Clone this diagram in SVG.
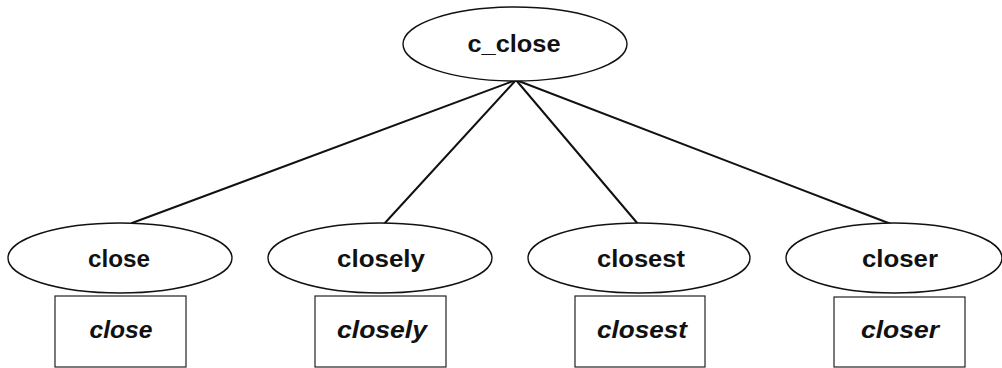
<svg xmlns="http://www.w3.org/2000/svg" width="1002" height="368" viewBox="0 0 1002 368">
  <style>
    .bg { fill: #ffffff; }
    .node { fill: #ffffff; stroke: #111111; stroke-width: 1.4; }
    .box { fill: #ffffff; stroke: #222222; stroke-width: 1.2; }
    .edge { stroke: #111111; stroke-width: 2; fill: none; stroke-linecap: round; }
    .lbl { font-family: "Liberation Sans", Arial, sans-serif; font-weight: bold; font-size: 23px; fill: #111111; text-anchor: middle; }
    .word { font-family: "Liberation Sans", Arial, sans-serif; font-weight: bold; font-style: italic; font-size: 23px; fill: #111111; text-anchor: middle; }
  </style>
  <rect class="bg" x="0" y="0" width="1002" height="368"/>

  <!-- tree edges from the root concept to each word form -->
  <g id="connectors">
    <line class="edge" x1="516" y1="80" x2="132" y2="223"/>
    <line class="edge" x1="516" y1="80" x2="384" y2="224"/>
    <line class="edge" x1="516" y1="80" x2="638" y2="224"/>
    <line class="edge" x1="516" y1="80" x2="891" y2="224"/>
  </g>

  <g id="c_close">
    <ellipse class="node" cx="515" cy="44" rx="112" ry="37"/>
    <text class="lbl" x="514" y="52" textLength="93" lengthAdjust="spacingAndGlyphs">c_close</text>
  </g>

  <g id="close">
    <ellipse class="node" cx="120" cy="258" rx="112" ry="35"/>
    <text class="lbl" x="119" y="267" textLength="62" lengthAdjust="spacingAndGlyphs">close</text>
  </g>
  <g id="close_word">
    <rect class="box" x="55" y="296" width="131" height="71"/>
    <text class="word" x="121" y="338" textLength="63" lengthAdjust="spacingAndGlyphs">close</text>
  </g>

  <g id="closely">
    <ellipse class="node" cx="380" cy="258" rx="112" ry="35"/>
    <text class="lbl" x="381" y="267" textLength="88" lengthAdjust="spacingAndGlyphs">closely</text>
  </g>
  <g id="closely_word">
    <rect class="box" x="315" y="296" width="131" height="71"/>
    <text class="word" x="382" y="338" textLength="90" lengthAdjust="spacingAndGlyphs">closely</text>
  </g>

  <g id="closest">
    <ellipse class="node" cx="639" cy="258" rx="111" ry="35"/>
    <text class="lbl" x="641" y="267" textLength="88" lengthAdjust="spacingAndGlyphs">closest</text>
  </g>
  <g id="closest_word">
    <rect class="box" x="575" y="296" width="130" height="71"/>
    <text class="word" x="642" y="338" textLength="90" lengthAdjust="spacingAndGlyphs">closest</text>
  </g>

  <g id="closer">
    <ellipse class="node" cx="894" cy="258" rx="108" ry="35"/>
    <text class="lbl" x="900" y="267" textLength="76" lengthAdjust="spacingAndGlyphs">closer</text>
  </g>
  <g id="closer_word">
    <rect class="box" x="834" y="297" width="131" height="70"/>
    <text class="word" x="900" y="338" textLength="78" lengthAdjust="spacingAndGlyphs">closer</text>
  </g>
</svg>
